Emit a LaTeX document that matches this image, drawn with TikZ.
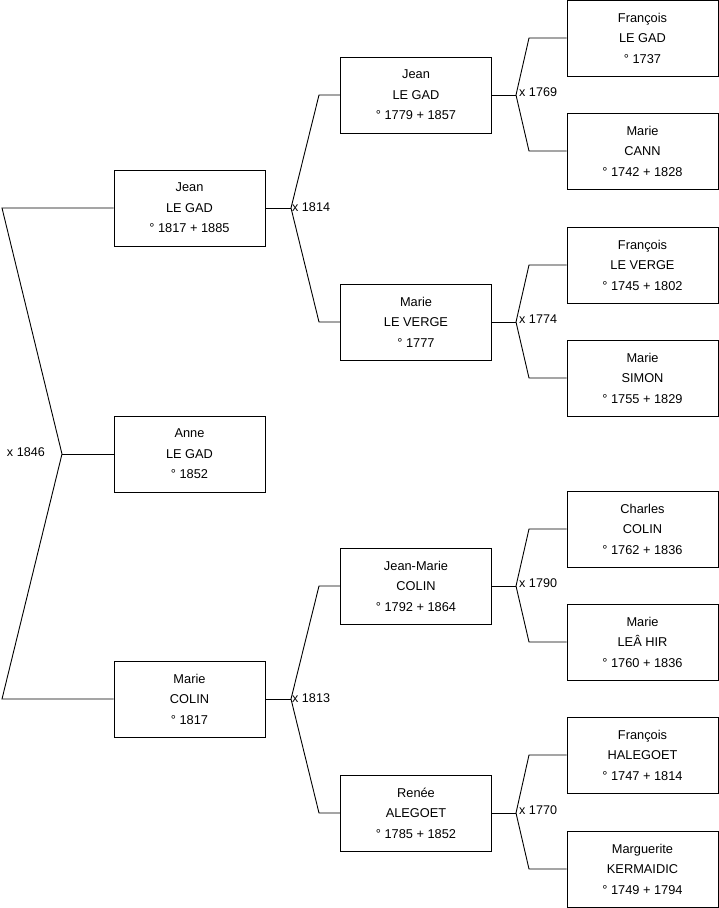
\documentclass[tikz,border=0pt]{standalone}
\usepackage{fontspec}
\setmainfont{Liberation Sans}
\begin{document}
\begin{tikzpicture}[x=1pt,y=-1pt,
  person/.style={draw=black, line width=0.8pt, minimum width=151pt, minimum height=76pt, inner sep=0pt, align=center, font=\fontsize{12.8}{20.5}\selectfont, fill=white},
  link/.style={draw=black, line width=0.9pt},
  mlabel/.style={font=\fontsize{12.6}{14}\selectfont, inner sep=1pt}]
\useasboundingbox (0,0) rectangle (719,908);
% level 1
\node[person] (jean1) at (189.5,208) {Jean\\LE GAD\\° 1817 + 1885};
\node[person] (anne) at (189.5,454) {Anne\\LE GAD\\° 1852};
\node[person] (marie1) at (189.5,699) {Marie\\COLIN\\° 1817};
% level 2
\node[person] (jean2) at (416,95) {Jean\\LE GAD\\° 1779 + 1857};
\node[person] (marie2) at (416,322) {Marie\\LE VERGE\\° 1777};
\node[person] (jeanmarie) at (416,586) {Jean-Marie\\COLIN\\° 1792 + 1864};
\node[person] (renee) at (416,813) {Renée\\ALEGOET\\° 1785 + 1852};
% level 3
\node[person] (fr1) at (642.5,38) {François\\LE GAD\\° 1737};
\node[person] (ma1) at (642.5,151) {Marie\\CANN\\° 1742 + 1828};
\node[person] (fr2) at (642.5,265) {François\\LE VERGE\\° 1745 + 1802};
\node[person] (ma2) at (642.5,378) {Marie\\SIMON\\° 1755 + 1829};
\node[person] (ch) at (642.5,529) {Charles\\COLIN\\° 1762 + 1836};
\node[person] (ma3) at (642.5,642) {Marie\\LEÂ HIR\\° 1760 + 1836};
\node[person] (fr3) at (642.5,755) {François\\HALEGOET\\° 1747 + 1814};
\node[person] (mg) at (642.5,869) {Marguerite\\KERMAIDIC\\° 1749 + 1794};
% junctions and bends
\coordinate (j0) at (62,454);
\coordinate (b0a) at (2,208);
\coordinate (b0b) at (2,699);
\coordinate (j1) at (291,208);
\coordinate (b1a) at (319,95);
\coordinate (b1b) at (319,322);
\coordinate (j2) at (291,699);
\coordinate (b2a) at (319,586);
\coordinate (b2b) at (319,813);
\coordinate (j3) at (516,95);
\coordinate (b3a) at (529,38);
\coordinate (b3b) at (529,151);
\coordinate (j4) at (516,322);
\coordinate (b4a) at (529,265);
\coordinate (b4b) at (529,378);
\coordinate (j5) at (516,586);
\coordinate (b5a) at (529,529);
\coordinate (b5b) at (529,642);
\coordinate (j6) at (516,813);
\coordinate (b6a) at (529,755);
\coordinate (b6b) at (529,869);
% connectors
\draw[link] (anne.west) -- (j0);
\draw[link] (jean1.west) -- (b0a) -- (j0) -- (b0b) -- (marie1.west);
\draw[link] (jean1.east) -- (j1);
\draw[link] (jean2.west) -- (b1a) -- (j1) -- (b1b) -- (marie2.west);
\draw[link] (marie1.east) -- (j2);
\draw[link] (jeanmarie.west) -- (b2a) -- (j2) -- (b2b) -- (renee.west);
\draw[link] (jean2.east) -- (j3);
\draw[link] (fr1.west) -- (b3a) -- (j3) -- (b3b) -- (ma1.west);
\draw[link] (marie2.east) -- (j4);
\draw[link] (fr2.west) -- (b4a) -- (j4) -- (b4b) -- (ma2.west);
\draw[link] (jeanmarie.east) -- (j5);
\draw[link] (ch.west) -- (b5a) -- (j5) -- (b5b) -- (ma3.west);
\draw[link] (renee.east) -- (j6);
\draw[link] (fr3.west) -- (b6a) -- (j6) -- (b6b) -- (mg.west);
% marriage labels
\node[mlabel, anchor=east] (m0) at (46,452) {x 1846};
\node[mlabel, anchor=west] (m1) at (291,207) {x 1814};
\node[mlabel, anchor=west] (m2) at (291,698) {x 1813};
\node[mlabel, anchor=west] (m3) at (518,92) {x 1769};
\node[mlabel, anchor=west] (m4) at (518,319) {x 1774};
\node[mlabel, anchor=west] (m5) at (518,583) {x 1790};
\node[mlabel, anchor=west] (m6) at (518,810) {x 1770};
\end{tikzpicture}
\end{document}
